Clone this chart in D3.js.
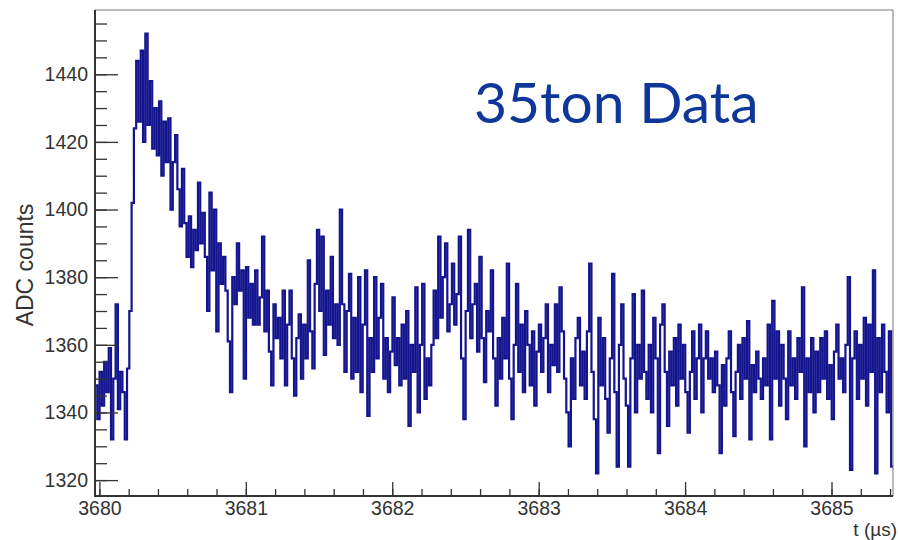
<!DOCTYPE html>
<html>
<head>
<meta charset="utf-8">
<script src="https://cdn.jsdelivr.net/npm/d3@7"></script>
<style>
  html, body { margin: 0; padding: 0; background: #fff; }
  svg { display: block; }
  .tick text { font-family: "Liberation Sans", Arial, sans-serif; fill: #333; }
</style>
</head>
<body>
<svg id="chart" width="898" height="540"></svg>
<script>
// Waveform sampled in fixed time bins (µs), ADC counts per bin
const tStart = 3679.97;
const binWidth = 1 / 64;
const adcCounts = [
  1348, 1338, 1352, 1342, 1355, 1346, 1359, 1332, 1350, 1372,
  1341, 1352, 1346, 1332, 1353, 1370, 1402, 1424, 1444, 1426,
  1447, 1420, 1452, 1425, 1438, 1418, 1430, 1416, 1432, 1410,
  1426, 1414, 1427, 1400, 1414, 1422, 1406, 1395, 1412, 1396,
  1386, 1398, 1383, 1394, 1388, 1408, 1390, 1399, 1386, 1370,
  1405, 1382, 1400, 1364, 1390, 1378, 1386, 1376, 1361, 1346,
  1380, 1372, 1390, 1376, 1382, 1350, 1383, 1368, 1378, 1366,
  1382, 1366, 1374, 1392, 1364, 1376, 1358, 1348, 1372, 1362,
  1368, 1356, 1376, 1348, 1366, 1376, 1356, 1345, 1362, 1369,
  1350, 1366, 1356, 1385, 1364, 1353, 1378, 1394, 1370, 1392,
  1357, 1376, 1366, 1386, 1362, 1372, 1360, 1400, 1372, 1352,
  1370, 1381, 1350, 1368, 1352, 1380, 1346, 1366, 1382, 1339,
  1362, 1352, 1380, 1356, 1368, 1378, 1350, 1362, 1346, 1358,
  1374, 1354, 1362, 1348, 1366, 1350, 1370, 1336, 1360, 1352,
  1377, 1340, 1360, 1378, 1344, 1356, 1348, 1360, 1376, 1362,
  1392, 1368, 1380, 1390, 1364, 1372, 1384, 1366, 1375, 1392,
  1356, 1338, 1370, 1394, 1362, 1372, 1378, 1358, 1386, 1362,
  1349, 1370, 1364, 1382, 1356, 1342, 1362, 1350, 1368, 1356,
  1384, 1350, 1338, 1360, 1378, 1352, 1366, 1346, 1370, 1360,
  1348, 1364, 1342, 1358, 1366, 1352, 1362, 1372, 1346, 1360,
  1354, 1372, 1352, 1377, 1364, 1350, 1340, 1330, 1356, 1344,
  1362, 1368, 1348, 1358, 1344, 1364, 1384, 1352, 1338, 1322,
  1368, 1348, 1362, 1344, 1334, 1356, 1381, 1346, 1324, 1360,
  1372, 1350, 1342, 1324, 1356, 1375, 1340, 1360, 1350, 1376,
  1352, 1344, 1360, 1340, 1368, 1356, 1328, 1366, 1372, 1352,
  1336, 1358, 1348, 1362, 1342, 1366, 1350, 1360, 1346, 1334,
  1352, 1364, 1344, 1356, 1366, 1340, 1356, 1364, 1350, 1356,
  1346, 1358, 1348, 1328, 1354, 1342, 1356, 1364, 1346, 1333,
  1352, 1360, 1344, 1362, 1350, 1367, 1332, 1354, 1346, 1358,
  1350, 1344, 1356, 1348, 1366, 1332, 1373, 1350, 1364, 1342,
  1360, 1350, 1338, 1364, 1348, 1356, 1344, 1362, 1352, 1377,
  1330, 1356, 1346, 1362, 1340, 1358, 1346, 1362, 1350, 1364,
  1344, 1354, 1338, 1358, 1366, 1350, 1356, 1346, 1360, 1380,
  1323, 1356, 1364, 1344, 1360, 1350, 1368, 1342, 1366, 1352,
  1382, 1322, 1362, 1346, 1366, 1352, 1340, 1364, 1324
];

// Axis ranges and tick positions
const xDomain = [3679.97, 3685.42];
const yDomain = [1315.3, 1459];
const xMajorTicks = [3680, 3681, 3682, 3683, 3684, 3685];
const xMinorTicks = d3.range(0, 28).map(k => +(3680 + k * 0.2).toFixed(1)).filter(v => v < xDomain[1]);
const yMajorTicks = [1320, 1340, 1360, 1380, 1400, 1420, 1440];
const yMinorTicks = d3.range(1320, 1460, 5);

const plot = { left: 95, right: 893, top: 10, bottom: 496 };

const svg = d3.select("#chart");
const x = d3.scaleLinear().domain(xDomain).range([plot.left, plot.right]);
const y = d3.scaleLinear().domain(yDomain).range([plot.bottom, plot.top]);

svg.append("defs").append("clipPath").attr("id", "plotClip")
  .append("rect")
  .attr("x", plot.left).attr("y", plot.top)
  .attr("width", plot.right - plot.left).attr("height", plot.bottom - plot.top);

// Histogram outline: each bin held flat over its width
const points = adcCounts.map((v, i) => ({ t: tStart + i * binWidth, v }));
points.push({ t: tStart + adcCounts.length * binWidth, v: adcCounts[adcCounts.length - 1] });

const line = d3.line()
  .x(d => x(d.t))
  .y(d => y(d.v))
  .curve(d3.curveStepAfter);

svg.append("path")
  .datum(points)
  .attr("clip-path", "url(#plotClip)")
  .attr("fill", "none")
  .attr("stroke", "#14148e")
  .attr("stroke-width", 2.2)
  .attr("stroke-linejoin", "miter")
  .attr("d", line);

// Frame (top and right)
svg.append("path")
  .attr("d", `M${plot.left},${plot.top}H${plot.right}V${plot.bottom}`)
  .attr("fill", "none").attr("stroke", "#777").attr("stroke-width", 1);

// X axis: major and minor ticks pointing into the frame
const xMinorAxis = d3.axisBottom(x).tickValues(xMinorTicks).tickSize(-7).tickFormat("");
const xMajorAxis = d3.axisBottom(x).tickValues(xMajorTicks).tickSize(-14).tickFormat(d3.format("d"));

const gxMinor = svg.append("g").attr("transform", `translate(0,${plot.bottom})`).call(xMinorAxis);
const gxMajor = svg.append("g").attr("transform", `translate(0,${plot.bottom})`).call(xMajorAxis);
[gxMinor, gxMajor].forEach(g => {
  g.select(".domain").remove();
  g.selectAll(".tick line").attr("stroke", "#333").attr("stroke-width", 1.3);
});
gxMajor.selectAll(".tick text").attr("font-size", 19.5).attr("y", 5).attr("dy", "0.71em");

// Y axis: major and minor ticks pointing into the frame
const yMinorAxis = d3.axisLeft(y).tickValues(yMinorTicks).tickSize(-12).tickFormat("");
const yMajorAxis = d3.axisLeft(y).tickValues(yMajorTicks).tickSize(-23).tickFormat(d3.format("d"));

const gyMinor = svg.append("g").attr("transform", `translate(${plot.left},0)`).call(yMinorAxis);
const gyMajor = svg.append("g").attr("transform", `translate(${plot.left},0)`).call(yMajorAxis);
[gyMinor, gyMajor].forEach(g => {
  g.select(".domain").remove();
  g.selectAll(".tick line").attr("stroke", "#333").attr("stroke-width", 1.3);
});
gyMajor.selectAll(".tick text").attr("font-size", 19.5).attr("x", -7);

// Axis lines
svg.append("path")
  .attr("d", `M${plot.left},${plot.top}V${plot.bottom}H${plot.right}`)
  .attr("fill", "none").attr("stroke", "#333").attr("stroke-width", 2);

// Axis titles
svg.append("text")
  .attr("transform", `translate(33,${(plot.top + plot.bottom) / 2 + 12}) rotate(-90)`)
  .attr("text-anchor", "middle")
  .attr("font-family", "Liberation Sans, Arial, sans-serif")
  .attr("font-size", 23)
  .attr("fill", "#333")
  .text("ADC counts");

svg.append("text")
  .attr("x", 897).attr("y", 536)
  .attr("text-anchor", "end")
  .attr("font-family", "Liberation Sans, Arial, sans-serif")
  .attr("font-size", 19)
  .attr("fill", "#333")
  .text("t (µs)");

// Title inside the frame
svg.append("text")
  .attr("x", 474).attr("y", 123)
  .attr("font-family", "Lato, 'Open Sans', sans-serif")
  .attr("font-size", 57)
  .attr("fill", "#0f3799")
  .text("35ton Data");
</script>
</body>
</html>
